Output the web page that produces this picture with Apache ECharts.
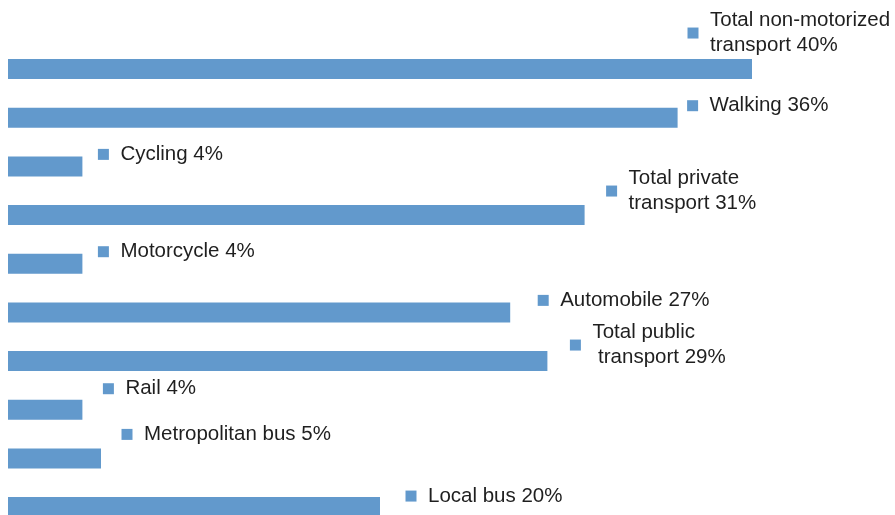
<!DOCTYPE html>
<html>
<head>
<meta charset="utf-8">
<script src="https://cdn.jsdelivr.net/npm/echarts@6/dist/echarts.min.js"></script>
<style>
  html, body { margin: 0; padding: 0; background: #ffffff; overflow: hidden; height: 515px; }
  /* the canvas runs a little past the bottom of the page, so the last bar is cut off */
  #chart { width: 895px; height: 532px; }
</style>
</head>
<body>
<div id="chart"></div>
<script>
// Modal share of trips, by mode
const categories = [
  'Total non-motorized transport', 'Walking', 'Cycling',
  'Total private transport', 'Motorcycle', 'Automobile',
  'Total public transport', 'Rail', 'Metropolitan bus', 'Local bus'
];
const shares = [40, 36, 4, 31, 4, 27, 29, 4, 5, 20];
const labelTexts = [
  'Total non-motorized\ntransport 40%', 'Walking 36%', 'Cycling 4%',
  'Total private\ntransport 31%', 'Motorcycle 4%', 'Automobile 27%',
  'Total public\n transport 29%', 'Rail 4%', 'Metropolitan bus 5%', 'Local bus 20%'
];

// Label placement: left edge / vertical centre of the legend key, relative to the bar end (px)
const labelShift = [
  [-64, -36], [10, -12], [16, -12], [22, -24], [16, -12],
  [28, -12], [23, -16], [21, -21], [21, -24], [26, -11]
];

const BLUE = '#6299cc';
const KEY = 10;       // legend key square size
const KEY_GAP = 22;   // key left edge to text left edge

const chart = echarts.init(document.getElementById('chart'), null, { renderer: 'canvas' });

chart.setOption({
  animation: false,
  backgroundColor: '#ffffff',
  grid: { left: 8, top: 44.7, right: 143, bottom: 0.6, containLabel: false },
  xAxis: {
    type: 'value', min: 0, max: 40,
    show: false, splitLine: { show: false }
  },
  yAxis: {
    type: 'category', data: categories, inverse: true,
    show: false
  },
  series: [
    {
      type: 'bar',
      data: shares.map((v, i) => ({
        value: v,
        label: {
          offset: [labelShift[i][0] + KEY_GAP, labelShift[i][1]],
          formatter: labelTexts[i]
        }
      })),
      barWidth: 20,
      itemStyle: { color: BLUE },
      label: {
        show: true,
        position: 'right',
        distance: 0,
        align: 'left',
        verticalAlign: 'middle',
        color: '#1f1f1f',
        fontFamily: '"Liberation Sans", Arial, sans-serif',
        fontSize: 20.5,
        lineHeight: 25
      },
      silent: true
    },
    {
      type: 'scatter',
      data: shares.map((v, i) => ({
        value: [v, categories[i]],
        symbolOffset: [labelShift[i][0] + KEY / 2, labelShift[i][1]]
      })),
      symbol: 'rect',
      symbolSize: KEY + 1,
      itemStyle: { color: BLUE, opacity: 1 },
      clip: false,
      silent: true,
      z: 5
    }
  ]
});
</script>
</body>
</html>
